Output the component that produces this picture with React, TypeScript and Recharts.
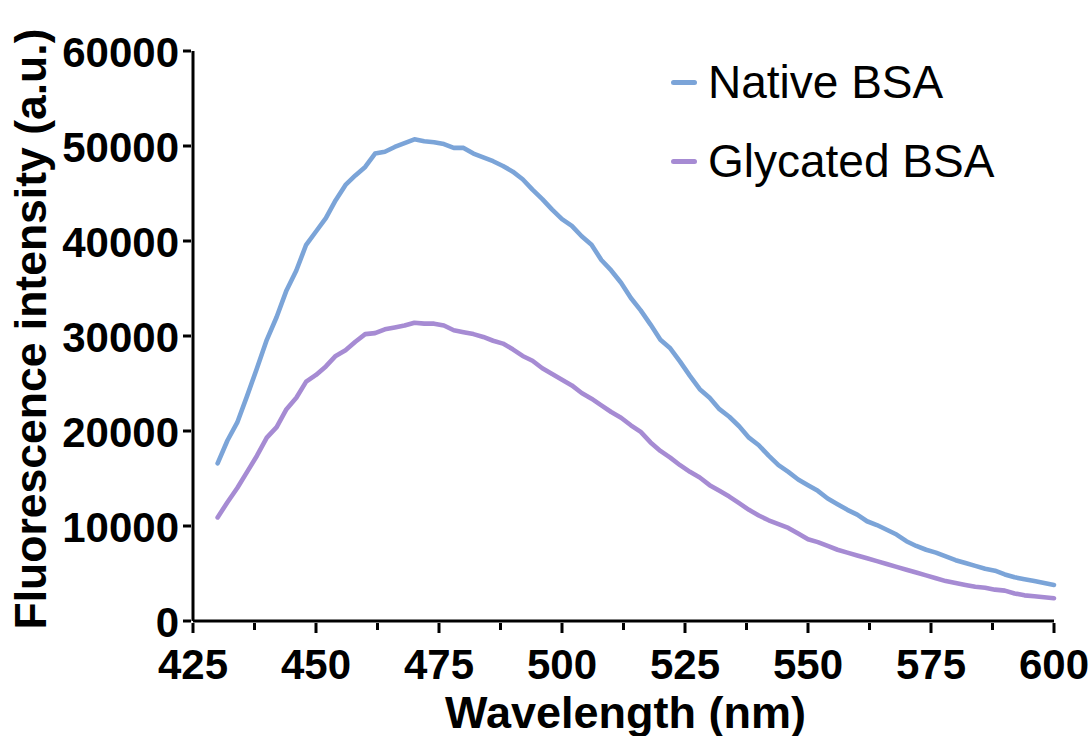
import { LineChart, Line, XAxis, YAxis, Legend, Label } from "recharts";

const FONT = "'Liberation Sans', Arial, Helvetica, sans-serif";
const NATIVE_COLOR = "#7ba4d8";
const GLYCATED_COLOR = "#a68bd3";

const wavelengths = [
  430, 432, 434, 436, 438, 440, 442, 444, 446, 448, 450, 452, 454, 456, 458, 460, 462, 464, 466, 468,
  470, 472, 474, 476, 478, 480, 482, 484, 486, 488, 490, 492, 494, 496, 498, 500, 502, 504, 506, 508,
  510, 512, 514, 516, 518, 520, 522, 524, 526, 528, 530, 532, 534, 536, 538, 540, 542, 544, 546, 548,
  550, 552, 554, 556, 558, 560, 562, 564, 566, 568, 570, 572, 574, 576, 578, 580, 582, 584, 586, 588,
  590, 592, 594, 596, 598, 600,
];

const nativeBSA = [
  16600, 19000, 20900, 23700, 26600, 29600, 32000, 34800, 36900, 39600, 41000, 42400, 44300, 45900,
  46900, 47800, 49200, 49400, 49900, 50300, 50700, 50500, 50400, 50200, 49800, 49800, 49200, 48800,
  48400, 47900, 47300, 46500, 45400, 44400, 43300, 42300, 41600, 40500, 39600, 38000, 36900, 35600,
  34000, 32700, 31200, 29600, 28700, 27300, 25800, 24400, 23500, 22300, 21500, 20500, 19300, 18500,
  17400, 16400, 15700, 14900, 14300, 13700, 12900, 12300, 11700, 11200, 10500, 10100, 9600, 9100,
  8400, 7900, 7500, 7200, 6800, 6400, 6100, 5800, 5500, 5300, 4900, 4600, 4400, 4200, 4000, 3800,
];

const glycatedBSA = [
  10900, 12500, 14000, 15700, 17400, 19300, 20400, 22300, 23500, 25200, 25900, 26800, 27900, 28500,
  29400, 30200, 30300, 30700, 30900, 31100, 31400, 31300, 31300, 31100, 30600, 30400, 30200, 29900,
  29500, 29200, 28600, 27900, 27400, 26600, 26000, 25400, 24800, 24000, 23400, 22700, 22000, 21400,
  20600, 19900, 18800, 17900, 17200, 16400, 15700, 15100, 14300, 13700, 13100, 12400, 11700, 11100,
  10600, 10200, 9800, 9200, 8600, 8300, 7900, 7500, 7200, 6900, 6600, 6300, 6000, 5700, 5400, 5100,
  4800, 4500, 4200, 4000, 3800, 3600, 3500, 3300, 3200, 2900, 2700, 2600, 2500, 2400,
];

const xTicks = [425, 437.5, 450, 462.5, 475, 487.5, 500, 512.5, 525, 537.5, 550, 562.5, 575, 587.5, 600];
const xLabels = [425, 450, 475, 500, 525, 550, 575, 600];
const yTicks = [0, 10000, 20000, 30000, 40000, 50000, 60000];

const seriesNames = ["Native BSA", "Glycated BSA"];

const data = wavelengths.map((nm, i) => ({
  nm,
  native: nativeBSA[i],
  glycated: glycatedBSA[i],
}));

function XTick({ x, y, payload }: any) {
  const major = xLabels.includes(payload.value);
  return (
    <g>
      <line x1={x} x2={x} y1={y} y2={y + (major ? 10 : 7)} stroke="#000" strokeWidth={3} />
      {major && (
        <text x={x} y={y + 56} textAnchor="middle" fontFamily={FONT} fontWeight="bold" fontSize={42} fill="#000">
          {payload.value}
        </text>
      )}
    </g>
  );
}

function YTick({ x, y, payload }: any) {
  return (
    <g>
      <line x1={x - 8} x2={x} y1={y} y2={y} stroke="#000" strokeWidth={3} />
      <text x={x - 12} y={y + 16} textAnchor="end" fontFamily={FONT} fontWeight="bold" fontSize={42} fill="#000">
        {payload.value}
      </text>
    </g>
  );
}

function renderLegend() {
  const colors = [NATIVE_COLOR, GLYCATED_COLOR];
  return (
    <div>
      {seriesNames.map((name, i) => (
        <div key={name} style={{ display: "flex", alignItems: "center", height: 79 }}>
          <span
            style={{
              display: "inline-block",
              width: 26,
              height: 5,
              borderRadius: 3,
              background: colors[i],
              marginRight: 11,
            }}
          />
          <span style={{ fontFamily: FONT, fontSize: 46, lineHeight: "79px", color: "#000" }}>{name}</span>
        </div>
      ))}
    </div>
  );
}

export default function App() {
  return (
    <div style={{ position: "absolute", left: 0, top: 0, width: 1092, height: 736, background: "#fff" }}>
      <LineChart width={1092} height={736} data={data} margin={{ top: 51, right: 38, left: 0, bottom: 0 }}>
        <XAxis
          dataKey="nm"
          type="number"
          domain={[425, 600]}
          ticks={xTicks}
          interval={0}
          height={115}
          tickSize={0}
          tickLine={false}
          axisLine={{ stroke: "#000", strokeWidth: 3 }}
          tick={<XTick />}
        >
          <Label
            content={({ viewBox }: any) => (
              <text
                x={viewBox.x + viewBox.width / 2 + 2}
                y={viewBox.y + 107}
                textAnchor="middle"
                fontFamily={FONT}
                fontWeight="bold"
                fontSize={45}
                fill="#000"
              >
                Wavelength (nm)
              </text>
            )}
          />
        </XAxis>
        <YAxis
          type="number"
          domain={[0, 60000]}
          ticks={yTicks}
          interval={0}
          width={193}
          tickSize={0}
          tickLine={false}
          axisLine={{ stroke: "#000", strokeWidth: 3 }}
          tick={<YTick />}
        >
          <Label
            content={({ viewBox }: any) => {
              const cx = 46;
              const cy = viewBox.y + viewBox.height / 2 - 7;
              return (
                <text
                  x={cx}
                  y={cy}
                  transform={`rotate(-90, ${cx}, ${cy})`}
                  textAnchor="middle"
                  fontFamily={FONT}
                  fontWeight="bold"
                  fontSize={44.5}
                  fill="#000"
                >
                  Fluorescence intensity (a.u.)
                </text>
              );
            }}
          />
        </YAxis>
        <Legend
          layout="vertical"
          verticalAlign="middle"
          align="center"
          content={renderLegend}
          wrapperStyle={{ left: 671, top: 43, width: 380 }}
        />
        <Line
          type="linear"
          dataKey="native"
          name={seriesNames[0]}
          stroke={NATIVE_COLOR}
          strokeWidth={4.6}
          strokeLinejoin="round"
          strokeLinecap="round"
          dot={false}
          activeDot={false}
          isAnimationActive={false}
        />
        <Line
          type="linear"
          dataKey="glycated"
          name={seriesNames[1]}
          stroke={GLYCATED_COLOR}
          strokeWidth={4.6}
          strokeLinejoin="round"
          strokeLinecap="round"
          dot={false}
          activeDot={false}
          isAnimationActive={false}
        />
      </LineChart>
    </div>
  );
}
